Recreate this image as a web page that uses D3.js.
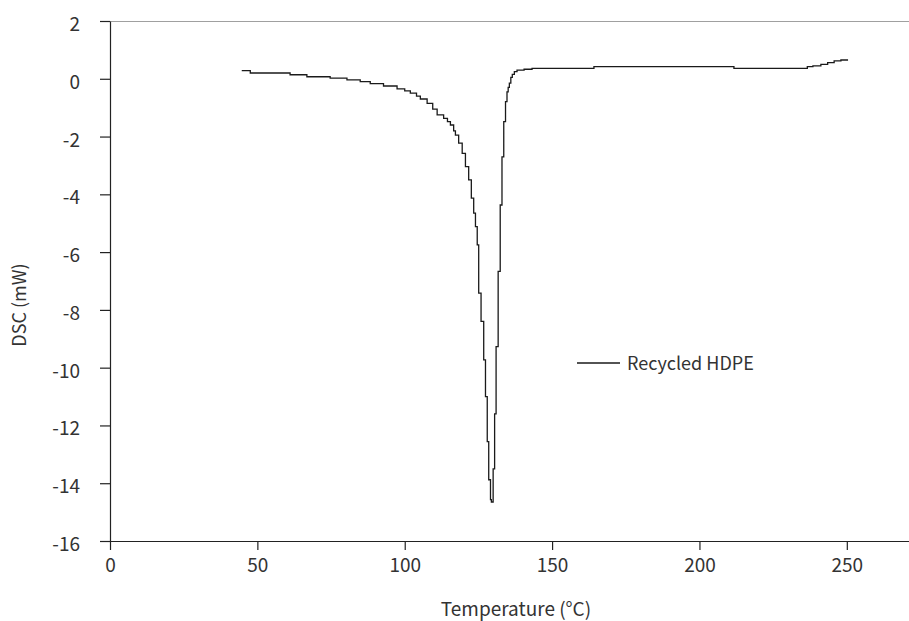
<!DOCTYPE html>
<html>
<head>
<meta charset="utf-8">
<script src="https://cdn.jsdelivr.net/npm/d3@7"></script>
<style>
  body { margin: 0; background: #fff; }
  text { font-family: "Noto Sans CJK KR", "Noto Sans", sans-serif; fill: #333; }
</style>
</head>
<body>
<div id="chart"></div>
<script>
// DSC trace: [temperature °C, heat flow mW] (step levels)
const temps = [44.7, 47.6, 61.1, 66.8, 74.7, 80.4, 84.9, 88.3, 92.8, 97.4, 100.0, 101.9, 104.0, 105.3,
  107.6, 109.5, 111.0, 113.2, 114.5, 115.5, 116.6, 117.2, 118.3, 119.5, 120.6, 121.7, 122.6, 123.4,
  124.0, 124.6, 125.1, 125.9, 126.8, 127.4, 128.0, 128.5, 129.1, 129.4,
  130.0, 130.5, 131.0, 131.7, 132.4, 133.0, 133.6, 134.2, 134.7, 135.1, 135.5, 136.0, 136.5, 137.2,
  138.1, 140.5, 143.2, 164.2, 211.7, 236.6, 238.5, 241.2, 243.5, 245.7, 248.0, 250.2];
const dsc = [0.28, 0.20, 0.14, 0.07, 0.02, -0.04, -0.10, -0.17, -0.25, -0.35, -0.42, -0.50, -0.60, -0.70,
  -0.85, -1.05, -1.25, -1.37, -1.48, -1.60, -1.80, -1.95, -2.23, -2.58, -3.04, -3.50, -4.13, -4.65,
  -5.12, -5.75, -7.42, -8.40, -9.73, -11.0, -12.56, -13.88, -14.57, -14.65,
  -13.5, -11.6, -9.27, -6.67, -4.37, -2.70, -1.48, -0.79, -0.45, -0.30, -0.15, 0.05, 0.15, 0.25,
  0.30, 0.33, 0.36, 0.42, 0.36, 0.42, 0.45, 0.50, 0.56, 0.62, 0.65, 0.68];
const xTicks = [0, 50, 100, 150, 200, 250];
const yTicks = [2, 0, -2, -4, -6, -8, -10, -12, -14, -16];
const seriesName = "Recycled HDPE";

const W = 909, H = 621;
const plot = { left: 110, top: 21, right: 909, bottom: 541 };
const fontFamily = '"Noto Sans CJK KR", "Noto Sans", sans-serif';

const svg = d3.select("#chart").append("svg")
  .attr("width", W).attr("height", H);

const x = d3.scaleLinear().domain([0, 271.1]).range([plot.left, plot.right]);
const y = d3.scaleLinear().domain([-16, 2]).range([plot.bottom, plot.top]);

// top border
svg.append("line")
  .attr("x1", plot.left).attr("x2", plot.right)
  .attr("y1", plot.top + 0.5).attr("y2", plot.top + 0.5)
  .style("stroke", "#a0a0a0").style("stroke-width", 1.2);

// axes (plain hyphen for negatives, like the original)
const xAxis = svg.append("g")
  .attr("transform", `translate(0,${plot.bottom})`)
  .call(d3.axisBottom(x).tickValues(xTicks).tickFormat((d) => String(d))
    .tickSize(9).tickPadding(9).tickSizeOuter(0));
const yAxis = svg.append("g")
  .attr("transform", `translate(${plot.left},0)`)
  .call(d3.axisLeft(y).tickValues(yTicks).tickFormat((d) => String(d))
    .tickSize(10).tickPadding(20).tickSizeOuter(0));
yAxis.selectAll("text").attr("dy", "0.5em");

[xAxis, yAxis].forEach((g) => {
  g.selectAll("path, line").style("stroke", "#222").style("stroke-width", 1.2);
  g.selectAll("text").style("font-size", "19px").style("fill", "#333")
    .style("font-family", fontFamily);
});

// axis titles
svg.append("text")
  .attr("x", 516).attr("y", 616)
  .attr("text-anchor", "middle")
  .style("font-size", "19px")
  .text("Temperature (°C)");

svg.append("text")
  .attr("transform", "translate(26,305) rotate(-90)")
  .attr("text-anchor", "middle")
  .style("font-size", "18px")
  .text("DSC (mW)");

// the trace
const data = temps.map((t, i) => ({ t, v: dsc[i] }));
const line = d3.line()
  .curve(d3.curveStepAfter)
  .x((d) => x(d.t))
  .y((d) => y(d.v));

svg.append("path")
  .datum(data)
  .attr("d", line)
  .style("fill", "none")
  .style("stroke", "#1a1a1a")
  .style("stroke-width", 1.3);

// legend
const legend = svg.append("g").attr("transform", "translate(577,363)");
legend.append("line")
  .attr("x1", 0).attr("x2", 43)
  .style("stroke", "#1a1a1a").style("stroke-width", 1.3);
legend.append("text")
  .attr("x", 50).attr("y", 7)
  .style("font-size", "18px")
  .text(seriesName);
</script>
</body>
</html>
